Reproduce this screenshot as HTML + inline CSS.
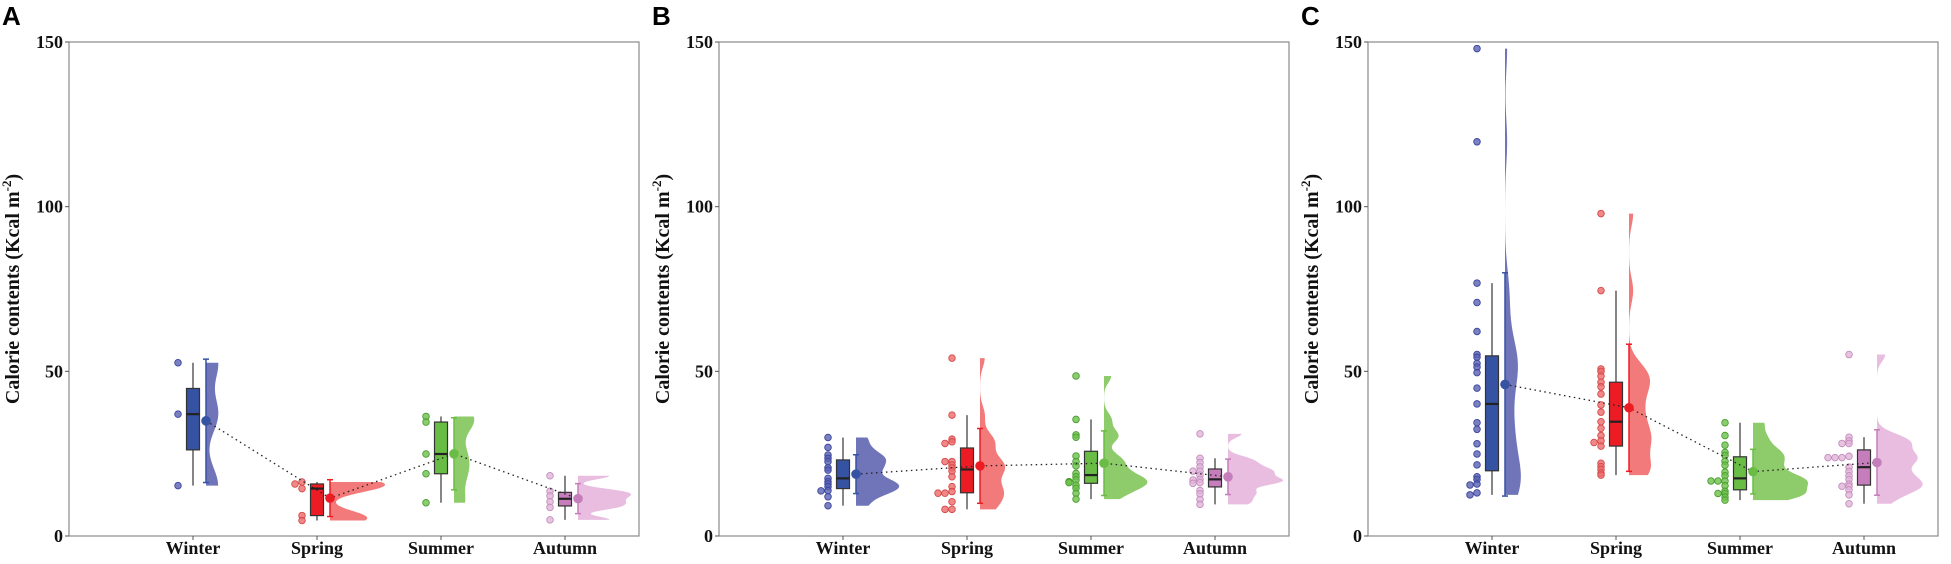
<!DOCTYPE html>
<html><head><meta charset="utf-8">
<style>
html,body{margin:0;padding:0;background:#fff;}
svg{display:block;}
.tk{font-family:"Liberation Serif",serif;font-weight:bold;font-size:18px;fill:#111;}
.yt{font-family:"Liberation Serif",serif;font-weight:bold;font-size:20px;fill:#111;}
.pl{font-family:"Liberation Sans",sans-serif;font-weight:bold;font-size:26px;fill:#000;}
</style></head>
<body>
<svg id="chart" width="1951" height="564" viewBox="0 0 1951 564" xmlns="http://www.w3.org/2000/svg"></svg>
<script>
const categories = ["Winter","Spring","Summer","Autumn"];
const panelLabels = ["A","B","C"];
const yTicks = [0,50,100,150];
// panel A values
const aWinter = [52.6,37,15.3];
const aSpring = [16.4,15.8,14.4,6.2,4.7];
const aSummer = [36.3,34.6,24.9,18.9,10.1];
const aAutumn = [18.3,13.6,12.2,10.4,8.7,4.9];
// panel B values
const bWinter = [29.9,26.9,24.6,23.6,22.6,20.7,20.0,17.5,16.5,15.8,15.0,13.7,13.8,11.9,9.2];
const bSpring = [54.0,36.7,29.4,28.6,28.1,22.6,22.6,21.6,20.7,19.7,18.0,15.0,13.5,13.0,13.0,10.4,8.1,8.1];
const bSummer = [48.6,35.4,30.7,30.0,24.3,22.6,21.3,19.0,18.0,17.0,16.5,16.2,15.4,14.5,13.0,11.2];
const bAutumn = [31.0,23.6,22.3,21.0,19.7,19.7,18.5,17.2,17.0,16.2,16.0,13.8,12.8,11.1,9.6];
// panel C values
const cWinter = [148,119.7,76.8,70.9,62.1,55.1,54.3,52.4,51.3,49.6,44.9,40.1,34.4,32.4,28.0,24.9,21.6,18.0,17.2,15.8,15.5,13.1,12.5];
const cSpring = [97.9,74.5,50.7,50.0,48.5,46.7,45.3,43.1,39.8,37.6,34.7,32.7,30.5,28.9,28.4,27.3,22.1,21.1,20.2,19.1,18.5];
const cSummer = [34.4,30.5,27.6,25.4,24.5,22.7,21.5,19.4,18.3,16.7,16.7,16.7,15.3,13.6,12.9,12.9,11.8,10.9];
const cAutumn = [55.1,30.0,28.9,28.1,28.1,24.2,23.8,23.8,23.8,20.9,19.6,18.3,17.2,15.8,15.1,15.1,14.0,12.5,9.8];
const panelData = [[aWinter,aSpring,aSummer,aAutumn],[bWinter,bSpring,bSummer,bAutumn],[cWinter,cSpring,cSummer,cAutumn]];

const boxCol = ["#3652a3","#ed1c24","#69bd45","#c67dbb"];
const violCol = ["#6f75b8","#f37a7a","#8ecb6b","#e8bde0"];
const ptFill = ["#5a62b0","#ee6a6a","#6cc04a","#e2b3da"];
const ptStroke = ["#3a45a0","#d44a4a","#4a9d30","#c38fbc"];
const NS = "http://www.w3.org/2000/svg";
const svg = document.getElementById("chart");
const lefts = [69,719,1368], W = 570, TOP = 42, BOT = 536, YMAX = 150;
function yScale(v){return BOT - v/YMAX*(BOT-TOP);}
function xScale(p,i){return lefts[p] + 124 + 124*i;}
function el(tag, attrs, parent){const e=document.createElementNS(NS,tag);for(const k in attrs)e.setAttribute(k,attrs[k]);(parent||svg).appendChild(e);return e;}
function quant(s,q){const h=(s.length-1)*q,lo=Math.floor(h),hi=Math.ceil(h);return s[lo]+(s[hi]-s[lo])*(h-lo);}
function stats(arr){
  const s=[...arr].sort((a,b)=>a-b),n=s.length;
  const q1=quant(s,0.25),med=quant(s,0.5),q3=quant(s,0.75),iqr=q3-q1;
  const lo=s.find(v=>v>=q1-1.5*iqr), hi=[...s].reverse().find(v=>v<=q3+1.5*iqr);
  const mean=s.reduce((a,b)=>a+b,0)/n;
  const sd=Math.sqrt(s.reduce((a,b)=>a+(b-mean)*(b-mean),0)/(n-1));
  let bw=0.9*Math.min(sd,iqr/1.34)*Math.pow(n,-0.2); if(!(bw>0)) bw=0.9*sd*Math.pow(n,-0.2);
  bw*=0.55;
  return {s,n,q1,med,q3,lo,hi,mean,sd,bw,min:s[0],max:s[n-1]};
}
function kde(st,y){let d=0;for(const v of st.s){const z=(y-v)/st.bw;d+=Math.exp(-0.5*z*z);}return d/(st.n*st.bw*Math.sqrt(2*Math.PI));}

for(let p=0;p<3;p++){
  const L=lefts[p];
  const g=el("g",{});
  
  
  const lab=el("text",{x:L-67,y:25,class:"pl"},g); lab.textContent=panelLabels[p];
  
  
  const fr=el("rect",{x:L,y:TOP,width:W,height:BOT-TOP,fill:"none",stroke:"#8a8a8a","stroke-width":1.2},g);
  
  
  yTicks.forEach(t=>{
    const y=yScale(t);
    el("line",{x1:L-4,x2:L,y1:y,y2:y,stroke:"#555"},g);
    const tx=el("text",{x:L-6,y:y+6,class:"tk","text-anchor":"end"},g); tx.textContent=t;
    
    
  });
  const yt=el("text",{class:"yt","text-anchor":"middle",transform:`translate(${L-50},${(TOP+BOT)/2}) rotate(-90)`},g);
  yt.innerHTML='Calorie contents (Kcal m<tspan dy="-8" font-size="13">-2</tspan><tspan dy="8">)</tspan>';
  
  
  const sts=panelData[p].map(stats);
  let maxD=0; const dens=sts.map(st=>{const arr=[];for(let k=0;k<=160;k++){const y=st.min+(st.max-st.min)*k/160;const d=kde(st,y);arr.push([y,d]);if(d>maxD)maxD=d;}return arr;});
  categories.forEach((c,i)=>{
    const cx=xScale(p,i);
    el("line",{x1:cx,x2:cx,y1:BOT,y2:BOT+4,stroke:"#555"},g);
    const xl=el("text",{x:cx,y:554,class:"tk","text-anchor":"middle"},g); xl.textContent=c;
    
    
    const st=sts[i], vx=cx+13;
    let d=`M${vx},${yScale(st.min)}`;
    dens[i].forEach(([y,dv])=>{d+=` L${(vx+dv/maxD*55).toFixed(2)},${yScale(y).toFixed(2)}`;});
    d+=` L${vx},${yScale(st.max)} Z`;
    const vi=el("path",{d,fill:violCol[i],stroke:"none"},g);
    
    
    const placed=[];
    st.s.slice().reverse().forEach(v=>{
      const dup=placed.filter(q=>Math.abs(q-v)<0.6).length; const off=dup>0?-7*dup:0; placed.push(v);
      const pt=el("circle",{cx:cx-15+off,cy:yScale(v),r:3.3,fill:ptFill[i],"fill-opacity":0.8,stroke:ptStroke[i],"stroke-width":0.9},g);
      
      
    });
    el("line",{x1:cx,x2:cx,y1:yScale(st.hi),y2:yScale(st.lo),stroke:"#444","stroke-width":1.3},g);
    const bx=el("rect",{x:cx-6.5,y:yScale(st.q3),width:13,height:Math.max(1,yScale(st.q1)-yScale(st.q3)),fill:boxCol[i],stroke:"#333","stroke-width":1.2},g);
    
    
    el("line",{x1:cx-6.5,x2:cx+6.5,y1:yScale(st.med),y2:yScale(st.med),stroke:"#222","stroke-width":2.2},g);
    const e1=yScale(st.mean+st.sd), e2=yScale(Math.max(st.mean-st.sd,st.min-1));
    el("line",{x1:vx,x2:vx,y1:e1,y2:e2,stroke:boxCol[i],"stroke-width":1.5},g);
    el("line",{x1:vx-3,x2:vx+3,y1:e1,y2:e1,stroke:boxCol[i],"stroke-width":1.5},g);
    el("line",{x1:vx-3,x2:vx+3,y1:e2,y2:e2,stroke:boxCol[i],"stroke-width":1.5},g);
  });
  let md="";
  sts.forEach((st,i)=>{md+=(i?" L":"M")+(xScale(p,i)+13)+","+yScale(st.mean);});
  const ml=el("path",{d:md,fill:"none",stroke:"#222","stroke-width":1.3,"stroke-dasharray":"1.5 3.5"},g);
  
  
  sts.forEach((st,i)=>{
    const m=el("circle",{cx:xScale(p,i)+13,cy:yScale(st.mean),r:4.8,fill:boxCol[i]},g);
    
    
  });
}
</script>
</body></html>
